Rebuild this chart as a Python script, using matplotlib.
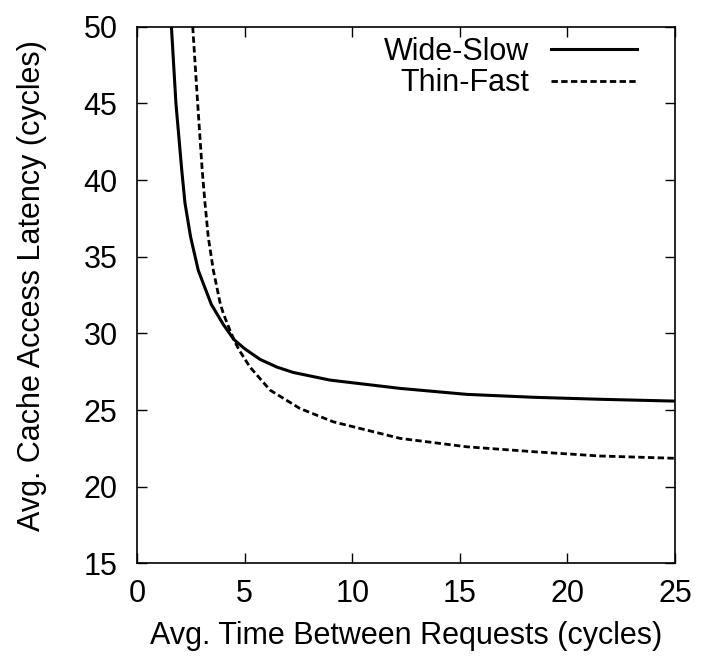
import matplotlib.pyplot as plt

# Wide-Slow curve
wide_x = [1.6, 1.81, 2.08, 2.23, 2.49, 2.85, 3.45, 4.0, 4.5, 5.0, 5.72, 6.5, 7.26,
          8.97, 12.22, 15.32, 18.42, 21.5, 25.0]
wide_y = [50.0, 45.0, 40.65, 38.5, 36.3, 34.1, 31.9, 30.6, 29.6, 29.0, 28.3, 27.8, 27.45,
          26.95, 26.41, 26.02, 25.83, 25.7, 25.58]

# Thin-Fast curve
thin_x = [2.59, 2.82, 3.03, 3.16, 3.31, 3.55, 3.86, 4.01, 4.32, 4.55, 4.75, 5.25, 6.18,
          7.57, 9.12, 12.22, 15.32, 18.42, 21.5, 25.0]
thin_y = [50.0, 45.0, 40.65, 38.5, 36.3, 34.1, 32.0, 31.3, 30.2, 29.45, 28.9, 27.8, 26.3,
          25.1, 24.23, 23.15, 22.6, 22.28, 22.0, 21.85]

x_ticks = [0, 5, 10, 15, 20, 25]
y_ticks = [15, 20, 25, 30, 35, 40, 45, 50]

plt.rcParams["font.family"] = ["Liberation Sans", "DejaVu Sans"]
FS = 22

fig = plt.figure(figsize=(7.01, 6.6), dpi=100)
ax = fig.add_axes([0.1954, 0.1465, 0.7676, 0.813])

ax.plot(wide_x, wide_y, color="black", lw=2.2, label="Wide-Slow")
ax.plot(thin_x, thin_y, color="black", lw=2.0, dashes=(2.3, 1.2), label="Thin-Fast")

ax.set_xlim(0, 25)
ax.set_ylim(15, 50)
ax.set_xticks(x_ticks)
ax.set_yticks(y_ticks)
ax.tick_params(direction="in", length=7, width=1, top=True, right=True, labelsize=FS)
ax.tick_params(axis="x", pad=11)
ax.tick_params(axis="y", pad=14)
for s in ax.spines.values():
    s.set_linewidth(1.2)

ax.set_xlabel("Avg. Time Between Requests (cycles)", fontsize=FS, labelpad=9)
ax.set_ylabel("Avg. Cache Access Latency (cycles)", fontsize=FS, labelpad=26)
ax.yaxis.label.set_y(0.517)

ax.legend(loc="upper right", bbox_to_anchor=(0.929, 0.981), frameon=False,
          markerfirst=False, fontsize=FS, handlelength=2.8, handletextpad=0.72,
          labelspacing=0.05, borderaxespad=0, borderpad=0)

fig.savefig("out.png", dpi=100)
